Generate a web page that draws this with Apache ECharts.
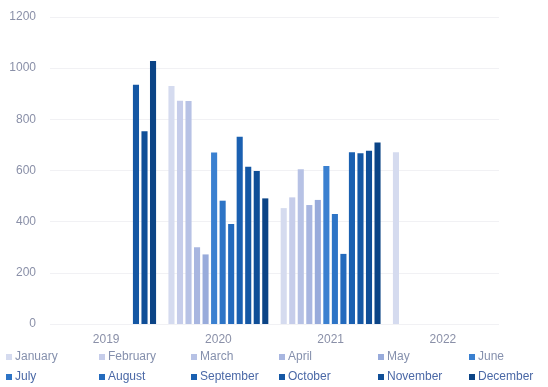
<!DOCTYPE html>
<html>
<head>
<meta charset="utf-8">
<script src="https://cdn.jsdelivr.net/npm/echarts@6/dist/echarts.min.js"></script>
<style>
  html, body { margin: 0; padding: 0; background: #fff; }
  #chart { width: 548px; height: 387px; }
</style>
</head>
<body>
<div id="chart"></div>
<script>
var years = ["2019", "2020", "2021", "2022"];
var months = ["January", "February", "March", "April", "May", "June",
  "July", "August", "September", "October", "November", "December"];
var yTicks = [0, 200, 400, 600, 800, 1000, 1200];

// one array per month: values for 2019, 2020, 2021, 2022
var january = [null, 930, 453, 671];
var february = [null, 873, 495, null];
var march = [null, 872, 605, null];
var april = [null, 300, 465, null];
var may = [null, 272, 485, null];
var june = [null, 670, 618, null];
var july = [null, 482, 430, null];
var august = [null, 391, 274, null];
var september = [null, 732, 671, null];
var october = [935, 615, 667, null];
var november = [753, 598, 677, null];
var december = [1028, 491, 709, null];

var monthValues = [january, february, march, april, may, june,
  july, august, september, october, november, december];

var colors = ["#d5dbef", "#c6cdea", "#b7c2e5", "#a8b6e0", "#98abdb", "#3a80d0",
  "#2d74c6", "#236abd", "#1a60b1", "#1457a4", "#0f4e97", "#0b4486"];

var series = months.map(function(m, i) {
  return {
    name: m,
    type: "bar",
    data: monthValues[i],
    itemStyle: { color: colors[i] },
    barGap: "40%",
    barCategoryGap: "11%"
  };
});

// legend laid out as a 6 x 2 grid
var legendX = [6, 99, 191, 279, 378, 469];
var legends = months.map(function(m, i) {
  var row = Math.floor(i / 6);
  return {
    data: [m],
    left: legendX[i % 6],
    top: row === 0 ? 351 : 371,
    itemWidth: 6,
    itemHeight: 6,
    icon: "rect",
    padding: 0,
    itemGap: 3,
    textStyle: {
      fontFamily: "Liberation Sans",
      fontSize: 12,
      color: row === 0 ? "#8590ad" : "#4a68a6",
      padding: [0, 0, 0, -2]
    }
  };
});

var chart = echarts.init(document.getElementById("chart"));
chart.setOption({
  animation: false,
  backgroundColor: "#ffffff",
  color: colors,
  legend: legends,
  grid: { left: 50, right: 49, top: 17, bottom: 63 },
  xAxis: {
    type: "category",
    data: years,
    axisLine: { show: false },
    axisTick: { show: false },
    axisLabel: {
      margin: 10,
      fontFamily: "Liberation Sans",
      fontSize: 12,
      color: "#8a90a8"
    }
  },
  yAxis: {
    type: "value",
    min: yTicks[0],
    max: yTicks[yTicks.length - 1],
    interval: 200,
    axisLine: { show: false },
    axisTick: { show: false },
    splitLine: { lineStyle: { color: "#f1f1f4", width: 1 } },
    axisLabel: {
      margin: 14,
      fontFamily: "Liberation Sans",
      fontSize: 12,
      color: "#8a90a8",
      formatter: function(v) { return String(v); }
    }
  },
  series: series
});
</script>
</body>
</html>
